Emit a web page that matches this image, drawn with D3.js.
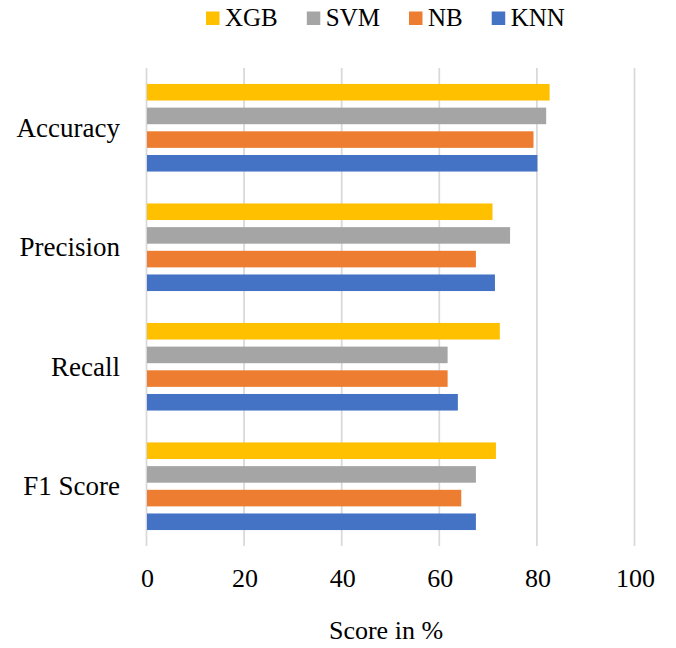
<!DOCTYPE html>
<html>
<head>
<meta charset="utf-8">
<script src="https://cdn.jsdelivr.net/npm/d3@7"></script>
<style>
  html, body { margin: 0; padding: 0; background: #fff; }
  svg { display: block; }
</style>
</head>
<body>
<svg id="chart" width="676" height="648" font-family="Liberation Serif"></svg>
<script>
// Metrics shown top-to-bottom, and the models compared within each
const categories = ["Accuracy", "Precision", "Recall", "F1 Score"];
const models = ["XGB", "SVM", "NB", "KNN"];
const colors = ["#FFC000", "#A5A5A5", "#ED7D31", "#4472C4"];

// Scores in % for each model, one value per metric
const xgbValues = [82.5, 70.8, 72.3, 71.5];
const svmValues = [81.8, 74.4, 61.6, 67.4];
const nbValues  = [79.2, 67.4, 61.6, 64.4];
const knnValues = [80.0, 71.3, 63.7, 67.4];

const xTicks = [0, 20, 40, 60, 80, 100];
const xTitle = "Score in %";

const FONT = "Liberation Serif";

const seriesValues = [xgbValues, svmValues, nbValues, knnValues];
const rows = [];
categories.forEach((c, ci) => {
  models.forEach((m, mi) => rows.push({ category: c, model: m, value: seriesValues[mi][ci] }));
});

const svg = d3.select("#chart");
const margin = { left: 147, right: 41, top: 68, bottom: 102 };
const W = 676, H = 648;

const x = d3.scaleLinear().domain([0, 100]).range([margin.left, W - margin.right]);
const y0 = d3.scaleBand().domain(categories)
  .range([margin.top, H - margin.bottom])
  .paddingInner(0.267).paddingOuter(0.1335);
const y1 = d3.scaleBand().domain(models)
  .range([0, y0.bandwidth()])
  .paddingInner(0.3).paddingOuter(0);
const color = d3.scaleOrdinal().domain(models).range(colors);

// Vertical gridlines
svg.append("g")
  .selectAll("line")
  .data(xTicks)
  .join("line")
  .attr("x1", d => x(d) - 0.5).attr("x2", d => x(d) - 0.5)
  .attr("y1", margin.top).attr("y2", H - margin.bottom)
  .attr("stroke", "#d9d9d9").attr("stroke-width", 1.75);

// Bars
svg.append("g")
  .selectAll("rect")
  .data(rows)
  .join("rect")
  .attr("x", x(0))
  .attr("y", d => y0(d.category) + y1(d.model))
  .attr("width", d => x(d.value) - x(0))
  .attr("height", y1.bandwidth())
  .attr("fill", d => color(d.model));

// X axis tick labels
const xAxis = d3.axisBottom(x).tickValues(xTicks).tickSize(0).tickPadding(0);
const gx = svg.append("g")
  .attr("transform", `translate(0,${H - margin.bottom})`)
  .call(xAxis)
  .attr("font-family", FONT);
gx.select(".domain").remove();
gx.selectAll("text")
  .attr("dy", null).attr("y", 41)
  .attr("font-size", 26).attr("fill", "#000");

// Category labels
const yAxis = d3.axisLeft(y0).tickSize(0).tickPadding(27);
const gy = svg.append("g")
  .attr("transform", `translate(${margin.left},0)`)
  .call(yAxis)
  .attr("font-family", FONT);
gy.select(".domain").remove();
gy.selectAll("text")
  .attr("dy", "0.34em")
  .attr("font-size", 27).attr("fill", "#000");

// Axis title
svg.append("text")
  .attr("x", (x(0) + x(100)) / 2 - 5)
  .attr("y", 639)
  .attr("text-anchor", "middle")
  .attr("font-family", FONT)
  .attr("font-size", 26)
  .text(xTitle);

// Legend
const legend = svg.append("g").attr("font-family", FONT);
let lx = 206;
models.forEach(m => {
  legend.append("rect")
    .attr("x", lx).attr("y", 11.5)
    .attr("width", 13.5).attr("height", 13.5)
    .attr("fill", color(m));
  const t = legend.append("text")
    .attr("x", lx + 19).attr("y", 26)
    .attr("font-size", 25)
    .text(m);
  lx += 19 + t.node().getComputedTextLength() + 29;
});
</script>
</body>
</html>
